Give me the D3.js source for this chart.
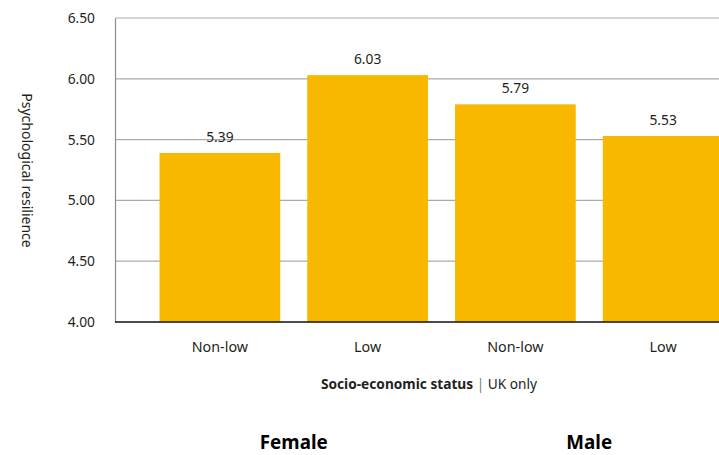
<!DOCTYPE html>
<html>
<head>
<meta charset="utf-8">
<script src="https://cdn.jsdelivr.net/npm/d3@7"></script>
<style>
  html, body { margin: 0; padding: 0; background: #fff; }
  svg { display: block; font-family: "Noto Sans", "Open Sans", sans-serif; }
</style>
</head>
<body>
<svg id="chart" width="719" height="455"></svg>
<script>
// Psychological resilience by socio-economic status, split by sex (UK only)
const categories = ["F-Non-low", "F-Low", "M-Non-low", "M-Low"];
const categoryLabels = ["Non-low", "Low", "Non-low", "Low"];
const resilience = [5.39, 6.03, 5.79, 5.53];
const groups = ["Female", "Male"];
const groupMembers = [["F-Non-low", "F-Low"], ["M-Non-low", "M-Low"]];
const yTicks = [4.0, 4.5, 5.0, 5.5, 6.0, 6.5];

const svg = d3.select("#chart");
const W = 719;
const plotLeft = 115, plotTop = 18, plotBottom = 322;

const x = d3.scaleBand()
  .domain(categories)
  .range([146, 737])
  .paddingInner(0.183)
  .paddingOuter(0.0915);

const y = d3.scaleLinear().domain([4, 6.5]).range([plotBottom, plotTop]);

// Horizontal gridlines
svg.append("g")
  .selectAll("line")
  .data(yTicks.slice(1))
  .join("line")
  .attr("x1", plotLeft).attr("x2", W)
  .attr("y1", d => y(d)).attr("y2", d => y(d))
  .attr("stroke", "#ababab").attr("stroke-width", 1.2);

// Bars
const rows = categories.map((c, i) => ({ key: c, label: categoryLabels[i], value: resilience[i] }));
svg.append("g")
  .selectAll("rect")
  .data(rows)
  .join("rect")
  .attr("x", d => x(d.key))
  .attr("width", x.bandwidth())
  .attr("y", d => y(d.value))
  .attr("height", d => y(4) - y(d.value))
  .attr("fill", "#f9b800");

// Value labels above bars
svg.append("g")
  .selectAll("text")
  .data(rows)
  .join("text")
  .attr("x", d => x(d.key) + x.bandwidth() / 2)
  .attr("y", d => y(d.value) - 11)
  .attr("text-anchor", "middle")
  .attr("font-size", 13.8)
  .attr("fill", "#231f20")
  .text(d => d.value.toFixed(2));

// Y axis
const yAxis = d3.axisLeft(y).tickValues(yTicks).tickSize(0).tickPadding(20)
  .tickFormat(d3.format(".2f"));
const gy = svg.append("g").attr("transform", `translate(${plotLeft},0)`).call(yAxis);
gy.select(".domain").attr("stroke", "#8c8c8c").attr("stroke-width", 1.2);
gy.selectAll("text").attr("font-size", 13.8).attr("fill", "#231f20")
  .attr("font-family", "Noto Sans, sans-serif");

// Baseline
svg.append("line")
  .attr("x1", plotLeft).attr("x2", W)
  .attr("y1", plotBottom).attr("y2", plotBottom)
  .attr("stroke", "#111").attr("stroke-width", 1.3);

// X category labels
const xAxis = d3.axisBottom(x).tickSize(0).tickPadding(20)
  .tickFormat((d, i) => categoryLabels[i]);
const gx = svg.append("g").attr("transform", `translate(0,${plotBottom})`).call(xAxis);
gx.select(".domain").remove();
gx.selectAll("text").attr("font-size", 14.3).attr("fill", "#231f20")
  .attr("font-family", "Noto Sans, sans-serif");

// Y axis title
svg.append("text")
  .attr("transform", `translate(22,170.5) rotate(90)`)
  .attr("text-anchor", "middle")
  .attr("font-size", 14)
  .attr("fill", "#231f20")
  .text("Psychological resilience");

// X axis title
const xt = svg.append("text")
  .attr("x", 429).attr("y", 389)
  .attr("text-anchor", "middle")
  .attr("font-size", 13.7)
  .attr("fill", "#231f20");
xt.append("tspan").attr("font-weight", "bold").text("Socio-economic status");
xt.append("tspan").attr("fill", "#808080").text(" | ");
xt.append("tspan").text("UK only");

// Group labels
svg.append("g")
  .selectAll("text")
  .data(groups)
  .join("text")
  .attr("x", (g, i) => {
    const m = groupMembers[i];
    return (x(m[0]) + x(m[1]) + x.bandwidth()) / 2;
  })
  .attr("y", 449)
  .attr("text-anchor", "middle")
  .attr("font-size", 18.8)
  .attr("font-weight", "bold")
  .attr("fill", "#000")
  .text(d => d);
</script>
</body>
</html>
